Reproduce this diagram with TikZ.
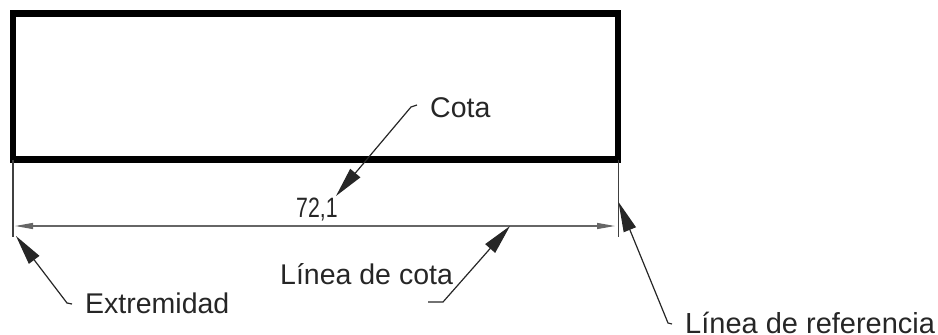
\documentclass[tikz,border=0pt]{standalone}
\usepackage{fontspec}
\setmainfont{Liberation Sans}
\newfontfamily\narrowfont[FakeStretch=0.76]{Liberation Sans}
\usetikzlibrary{arrows.meta}
\tikzset{
  outline/.style={draw=black,line width=6.5pt,line join=miter,outer sep=0pt,inner sep=0pt},
  thinl/.style={draw=black!75,line width=1.2pt},
  dimarrow/.style={draw=black!60,line width=1.2pt,{Triangle[length=18pt,width=6pt]}-{Triangle[length=18pt,width=6pt]}},
  leader/.style={draw=black!85,line width=1.2pt,{Triangle[length=30pt,width=13pt]}-},
  lbl/.style={inner sep=0pt,text=black!85,font=\fontsize{28.5}{30}\selectfont,anchor=base west},
}
\begin{document}
\begin{tikzpicture}[x=1pt,y=-1pt]
\useasboundingbox (0,0) rectangle (938,335);
\node[outline,minimum width=605pt,minimum height=146pt,anchor=north west] (rect) at (13,13.5) {};
\coordinate (le) at (13,236.5);
\coordinate (re) at (618.3,236.5);
\draw[thinl] (rect.south west) -- (le);
\draw[thinl] (rect.south east -| re) -- (re);
\coordinate (dl) at (15,226);
\coordinate (dr) at (615,226);
\draw[dimarrow] (dl) -- (dr);
\node[lbl,font=\narrowfont\fontsize{28}{30}\selectfont] (val) at (296,217) {72,1};
\node[lbl] (cota) at (430,117) {Cota};
\node[lbl] (ext) at (85,313) {Extremidad};
\node[lbl] (lin) at (280,284) {Línea de cota};
\node[lbl,font=\fontsize{29}{30}\selectfont] (ref) at (685,333) {Línea de referencia};
\coordinate (t1) at (336,196);
\coordinate (k1) at (411,107);
\coordinate (e1) at (417,105);
\draw[leader] (t1) -- (k1) -- (e1);
\coordinate (t2) at (16,236);
\coordinate (k2) at (67,303);
\coordinate (e2) at (72,304);
\draw[leader] (t2) -- (k2) -- (e2);
\coordinate (t3) at (510,226);
\coordinate (k3) at (443,302);
\coordinate (e3) at (428,302);
\draw[leader] (t3) -- (k3) -- (e3);
\coordinate (t4) at (618.5,202);
\coordinate (k4) at (668,323);
\coordinate (e4) at (672,324);
\draw[leader] (t4) -- (k4) -- (e4);
\end{tikzpicture}
\end{document}
